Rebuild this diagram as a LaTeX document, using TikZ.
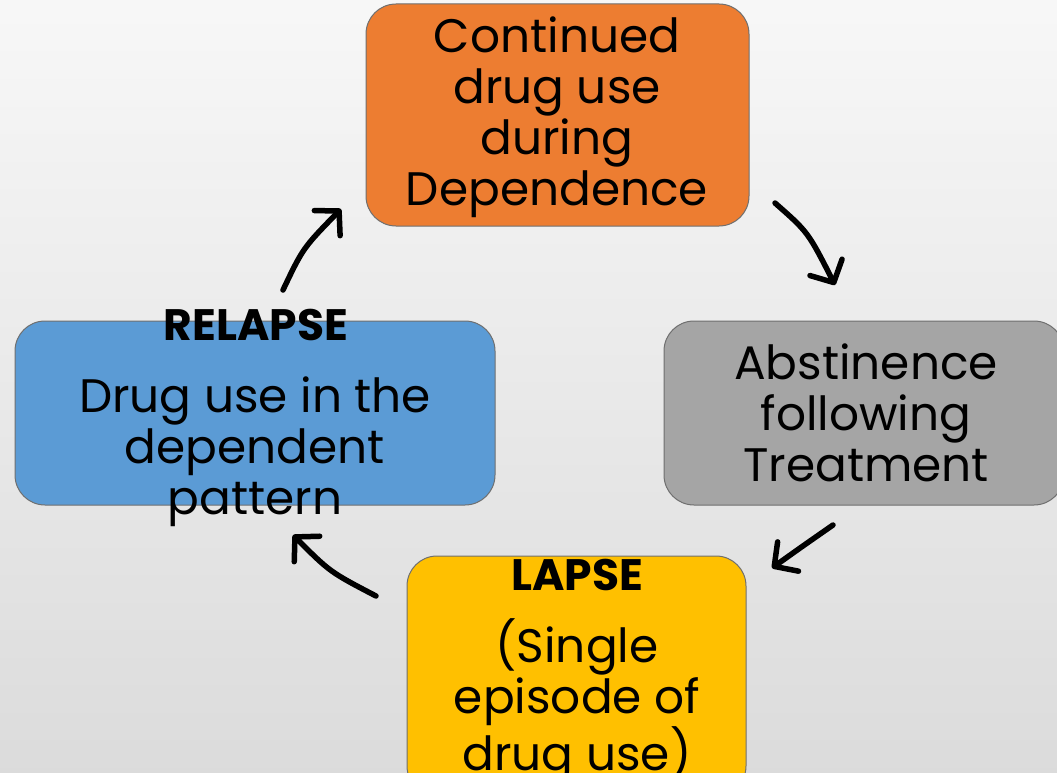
\documentclass[tikz,border=0pt]{standalone}
\usepackage{fontspec}
\setmainfont{Poppins}
\usetikzlibrary{arrows.meta}
\definecolor{orangebox}{HTML}{ED7D31}
\definecolor{graybox}{HTML}{A5A5A5}
\definecolor{bluebox}{HTML}{5B9BD5}
\definecolor{yellowbox}{HTML}{FFC000}
\definecolor{edgecol}{HTML}{6F6F6F}
\tikzset{
  card/.style={draw=edgecol, line width=1pt, rounded corners=30pt, inner sep=0pt},
  body/.style={align=center, font=\fontsize{47}{51}\selectfont, text=black, inner sep=0pt},
  head/.style={font=\bfseries\fontsize{44}{48}\selectfont, text=black, inner sep=0pt},
  flow/.style={line width=5.5pt, line cap=round, -{Straight Barb[length=17pt,width=36pt,line width=5.5pt,round]}}
}
\begin{document}
\begin{tikzpicture}[x=1pt,y=-1pt]
\shade[top color=white!97!black, bottom color=white!86!black] (0,0) rectangle (1057,773);
\useasboundingbox (0,0) rectangle (1057,773);
% boxes
\node[card, fill=orangebox, minimum width=383pt, minimum height=222pt] (cont) at (557.5,115) {};
\node[card, fill=graybox, minimum width=400pt, minimum height=184pt] (abst) at (864,413) {};
\node[card, fill=bluebox, minimum width=480pt, minimum height=184pt] (rel) at (255,413) {};
\node[card, fill=yellowbox, minimum width=339pt, minimum height=240pt] (lap) at (576.5,676) {};
% texts
\node[body] (conttxt) at (557,117) {Continued\\drug use\\during\\Dependence};
\node[body] (absttxt) at (866,413) {Abstinence\\following\\Treatment};
\node[head] (relhead) at (256,325) {RELAPSE};
\node[body] (reltxt) at (255,452) {Drug use in the\\dependent\\pattern};
\node[head] (laphead) at (577,575) {LAPSE};
\node[body] (laptxt) at (577,701) {(Single\\episode of\\drug use)};
% arrow endpoints
\coordinate (a1s) at (775,203); \coordinate (a1e) at (835,285);
\coordinate (a2s) at (833,525); \coordinate (a2e) at (772,568);
\coordinate (a3s) at (376,596); \coordinate (a3e) at (293,535);
\coordinate (a4s) at (283,290); \coordinate (a4e) at (341,209);
\draw[flow] (a1s) .. controls (808,232) .. (a1e);
\draw[flow] (a2s) .. controls (800,548) .. (a2e);
\draw[flow] (a3s) .. controls (330,572) .. (a3e);
\draw[flow] (a4s) .. controls (303,248) .. (a4e);
\end{tikzpicture}
\end{document}
